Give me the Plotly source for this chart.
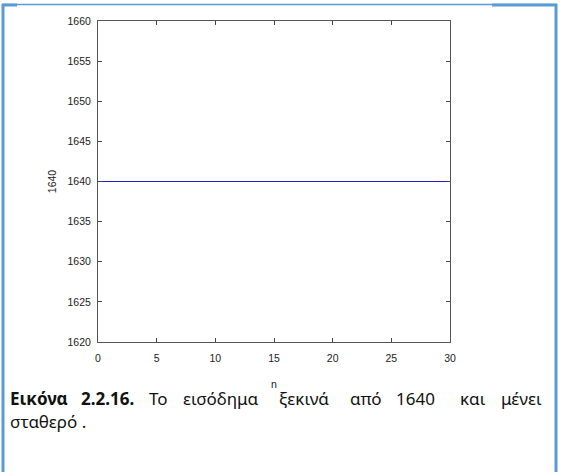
import plotly.graph_objects as go

# Data
n = [0, 1, 2, 3, 4, 5, 6, 7, 8, 9, 10, 11, 12, 13, 14, 15, 16, 17, 18, 19, 20,
     21, 22, 23, 24, 25, 26, 27, 28, 29, 30]
income = [1640, 1640, 1640, 1640, 1640, 1640, 1640, 1640, 1640, 1640, 1640,
          1640, 1640, 1640, 1640, 1640, 1640, 1640, 1640, 1640, 1640,
          1640, 1640, 1640, 1640, 1640, 1640, 1640, 1640, 1640, 1640]
x_ticks = [0, 5, 10, 15, 20, 25, 30]
y_ticks = [1620, 1625, 1630, 1635, 1640, 1645, 1650, 1655, 1660]
y_title = "1640"
x_title = "n"
caption_line1 = [("<b>Εικόνα</b>", 8), ("<b>2.2.16.</b>", 79), ("Το", 147),
                 ("εισόδημα", 181), ("ξεκινά", 277), ("από", 348),
                 ("1640", 394), ("και", 458), ("μένει", 499)]
caption_line2 = "σταθερό ."

W, H = 564, 472
L, R, T, B = 98, 450, 21, 342

def px(x):
    return (x - L) / (R - L)

def py(y):
    return (B - y) / (B - T)

tick_font = dict(family="Liberation Sans Narrow, Arial Narrow, Liberation Sans, Arial", size=10.5, color="#222")

fig = go.Figure()
fig.add_trace(go.Scatter(x=n, y=income, mode="lines",
                         line=dict(color="#1c1cd4", width=1.2),
                         showlegend=False, hoverinfo="skip"))

fig.update_layout(
    width=W, height=H,
    margin=dict(l=L, r=W - R, t=T, b=H - B),
    paper_bgcolor="white", plot_bgcolor="white",
    showlegend=False,
    xaxis=dict(range=[0, 30], tickvals=x_ticks, ticks="inside", ticklen=4,
               tickcolor="#444", showline=True, linecolor="#555", linewidth=1,
               mirror="ticks", showgrid=False, zeroline=False,
               tickfont=tick_font, ticklabelstandoff=6,
               title=dict(text=x_title, font=tick_font, standoff=18)),
    yaxis=dict(range=[1620, 1660], tickvals=y_ticks, ticks="inside", ticklen=4,
               tickcolor="#444", showline=True, linecolor="#555", linewidth=1,
               mirror="ticks", showgrid=False, zeroline=False,
               tickfont=tick_font, ticklabelstandoff=4,
               title=dict(text=y_title, font=tick_font, standoff=8)),
)

cap_font = dict(family="Noto Sans, Open Sans, DejaVu Sans", size=17, color="#111")
for word, x0 in caption_line1:
    fig.add_annotation(text=word, xref="paper", yref="paper", x=px(x0), y=py(398),
                       xanchor="left", yanchor="middle", showarrow=False,
                       font=cap_font)
fig.add_annotation(text=caption_line2, xref="paper", yref="paper", x=px(8), y=py(421),
                   xanchor="left", yanchor="middle", showarrow=False, font=cap_font)

# Frame around the figure
frame = "#5b9bd5"
shapes = [
    dict(x0=px(3), x1=px(3), y0=py(4), y1=py(472), width=3),
    dict(x0=px(556), x1=px(556), y0=py(4), y1=py(472), width=3),
    dict(x0=px(2), x1=px(557), y0=py(4.5), y1=py(4.5), width=1.5),
    dict(x0=px(2), x1=px(17), y0=py(5), y1=py(5), width=3),
    dict(x0=px(492), x1=px(557), y0=py(5), y1=py(5), width=3),
]
for s in shapes:
    fig.add_shape(type="line", xref="paper", yref="paper",
                  x0=s["x0"], x1=s["x1"], y0=s["y0"], y1=s["y1"],
                  line=dict(color=frame, width=s["width"]))

fig.write_html("out.html", config={"displayModeBar": False},
               post_script="document.body.style.margin='0px';document.body.style.padding='0px';")
